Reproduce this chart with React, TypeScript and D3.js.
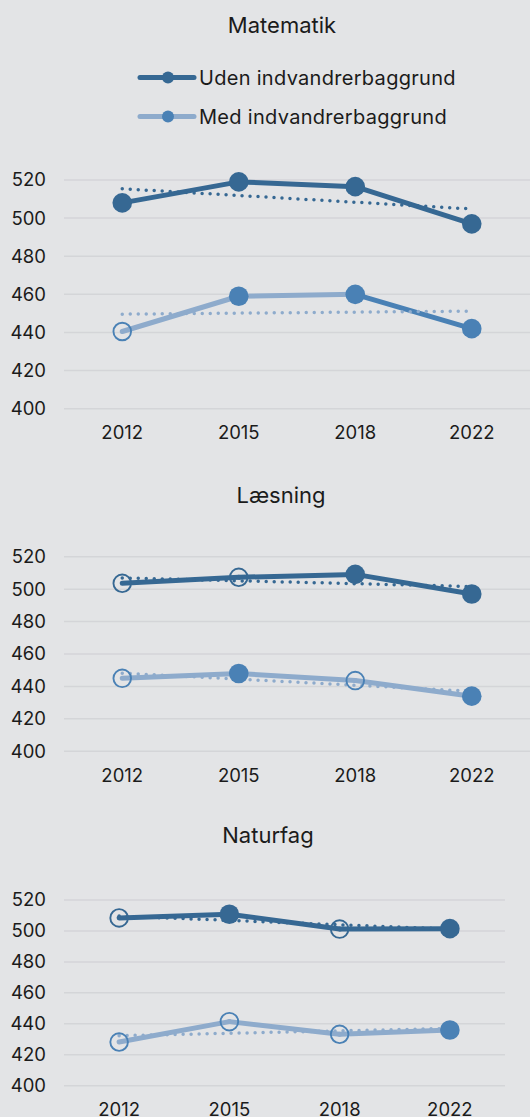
import React from "react";
import * as d3 from "d3";

const years = ["2012", "2015", "2018", "2022"];
const subjects = ["Matematik", "Læsning", "Naturfag"];
const seriesNames = ["Uden indvandrerbaggrund", "Med indvandrerbaggrund"];
const yTicks = [400, 420, 440, 460, 480, 500, 520];

// Matematik
const matUden = [508, 519, 516.5, 497];
const matMed = [440.5, 459, 460, 442];
const matUdenTrend = [515.4, 504.8];
const matMedTrend = [449.6, 451.2];
const matUdenFilled = [true, true, true, true];
const matMedFilled = [false, true, true, true];
const matMedStrongSeg = [false, false, true];

// Læsning
const laesUden = [503.6, 507.3, 509.1, 497];
const laesMed = [445, 448, 443.6, 434];
const laesUdenTrend = [506.9, 501.6];
const laesMedTrend = [448.2, 437];
const laesUdenFilled = [false, false, true, true];
const laesMedFilled = [false, true, false, true];
const laesMedStrongSeg = [false, false, false];

// Naturfag
const natUden = [508.4, 510.8, 501.2, 501.5];
const natMed = [428.2, 441.4, 433.2, 436];
const natUdenTrend = [509.6, 501.2];
const natMedTrend = [432.3, 437];
const natUdenFilled = [false, true, false, true];
const natMedFilled = [false, false, false, true];
const natMedStrongSeg = [false, false, false];

const DARK = "#366893";
const MID = "#4a81b5";
const LIGHT = "#8eabcc";
const BG = "#e3e4e6";
const GRID = "#d4d5d8";
const TEXT = "#1b1b1b";
const FONT = "Inter, 'Noto Sans', sans-serif";

const panelsData = [
  { uden: matUden, med: matMed, udenT: matUdenTrend, medT: matMedTrend, udenF: matUdenFilled, medF: matMedFilled, medS: matMedStrongSeg },
  { uden: laesUden, med: laesMed, udenT: laesUdenTrend, medT: laesMedTrend, udenF: laesUdenFilled, medF: laesMedFilled, medS: laesMedStrongSeg },
  { uden: natUden, med: natMed, udenT: natUdenTrend, medT: natMedTrend, udenF: natUdenFilled, medF: natMedFilled, medS: natMedStrongSeg },
];

const layouts = [
  { titleX: 282, titleY: 33, top: 180, bottom: 408.7, left: 64, right: 530 },
  { titleX: 281, titleY: 503, top: 556.7, bottom: 751.3, left: 64, right: 530 },
  { titleX: 268, titleY: 843, top: 900, bottom: 1085.7, left: 64, right: 505 },
];

function Panel({ idx }: { idx: number }) {
  const d = panelsData[idx];
  const L = layouts[idx];
  const x = d3.scalePoint<string>().domain(years).range([L.left, L.right]).padding(0.5);
  const y = d3.scaleLinear().domain([400, 520]).range([L.bottom, L.top]);
  const line = d3
    .line<[number, number]>()
    .x((p) => p[0])
    .y((p) => p[1]);

  const series = [
    { vals: d.uden, trend: d.udenT, filled: d.udenF, strong: [true, true, true], lineCol: DARK, strongCol: DARK, mark: DARK },
    { vals: d.med, trend: d.medT, filled: d.medF, strong: d.medS, lineCol: LIGHT, strongCol: MID, mark: MID },
  ];

  return (
    <g>
      <text x={L.titleX} y={L.titleY} textAnchor="middle" fontSize={22} fill={TEXT} fontFamily={FONT}>
        {subjects[idx]}
      </text>
      {yTicks.map((t) => (
        <g key={t}>
          <line x1={L.left} x2={L.right} y1={y(t)} y2={y(t)} stroke={GRID} strokeWidth={1.5} />
          <text x={46} y={y(t)} dy="0.35em" textAnchor="end" fontSize={18.5} fill={TEXT} fontFamily={FONT}>
            {t}
          </text>
        </g>
      ))}
      {years.map((yr) => (
        <text key={yr} x={x(yr)} y={L.bottom + 30.5} textAnchor="middle" fontSize={18.5} fill={TEXT} fontFamily={FONT}>
          {yr}
        </text>
      ))}
      {series.map((s, si) => (
        <g key={"l" + si}>
          {years.slice(0, -1).map((yr, i) => (
            <path
              key={yr}
              d={line([
                [x(yr)!, y(s.vals[i])],
                [x(years[i + 1])!, y(s.vals[i + 1])],
              ])!}
              stroke={s.strong[i] ? s.strongCol : s.lineCol}
              strokeWidth={5}
              fill="none"
              strokeLinecap="round"
            />
          ))}
        </g>
      ))}
      {series.map((s, si) => (
        <path
          key={"t" + si}
          d={line([
            [x(years[0])!, y(s.trend[0])],
            [x(years[years.length - 1])!, y(s.trend[1])],
          ])!}
          stroke={si === 0 ? DARK : LIGHT}
          strokeWidth={3.5}
          strokeDasharray="0 8"
          strokeLinecap="round"
          fill="none"
        />
      ))}
      {series.map((s, si) => (
        <g key={"m" + si}>
          {years.map((yr, i) =>
            s.filled[i] ? (
              <circle key={yr} cx={x(yr)} cy={y(s.vals[i])} r={9.8} fill={s.mark} />
            ) : (
              <circle key={yr} cx={x(yr)} cy={y(s.vals[i])} r={8.8} fill="none" stroke={s.mark} strokeWidth={1.9} />
            )
          )}
        </g>
      ))}
    </g>
  );
}

function Legend() {
  const items = [
    { name: seriesNames[0], y: 77.5, lineCol: DARK, mark: DARK },
    { name: seriesNames[1], y: 116.5, lineCol: LIGHT, mark: MID },
  ];
  return (
    <g>
      {items.map((it) => (
        <g key={it.name}>
          <line x1={140} x2={194} y1={it.y} y2={it.y} stroke={it.lineCol} strokeWidth={5} strokeLinecap="round" />
          <circle cx={168} cy={it.y} r={6} fill={it.mark} />
          <text x={199} y={it.y} dy="0.35em" fontSize={20} letterSpacing={0.3} fill={TEXT} fontFamily={FONT}>
            {it.name}
          </text>
        </g>
      ))}
    </g>
  );
}

export default function App() {
  React.useEffect(() => {
    document.body.style.margin = "0";
    document.body.style.background = BG;
  }, []);
  return (
    <svg
      width={530}
      height={1117}
      style={{ display: "block", position: "absolute", left: 0, top: 0, background: BG }}
    >
      <rect x={0} y={0} width={530} height={1117} fill={BG} />
      <Legend />
      {[0, 1, 2].map((i) => (
        <Panel key={i} idx={i} />
      ))}
    </svg>
  );
}
